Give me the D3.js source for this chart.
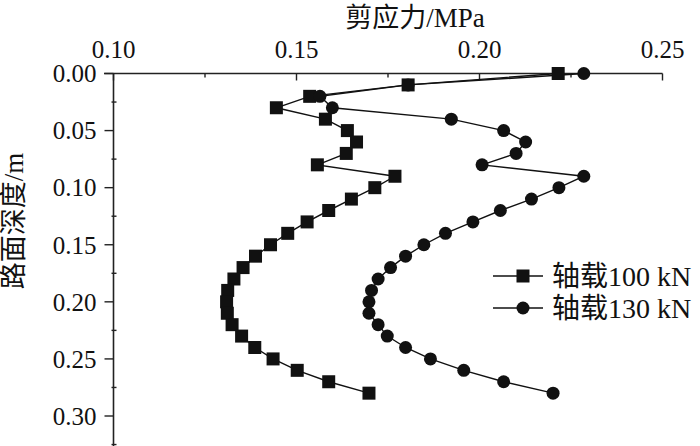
<!DOCTYPE html>
<html><head><meta charset="utf-8">
<script src="https://cdn.jsdelivr.net/npm/d3@7"></script>
<style>
body{margin:0;background:#fff;}
</style></head>
<body><svg id="c" width="700" height="446"></svg>
<script>
const depths = [0.00,0.01,0.02,0.03,0.04,0.05,0.06,0.07,0.08,0.09,0.10,0.11,0.12,0.13,0.14,0.15,0.16,0.17,0.18,0.19,0.20,0.21,0.22,0.23,0.24,0.25,0.26,0.27,0.28];
const load100 = [0.2215,0.1805,0.1536,0.1445,0.1579,0.1639,0.1664,0.1636,0.1557,0.1769,0.1714,0.1650,0.1588,0.1529,0.1476,0.1429,0.1388,0.1354,0.1329,0.1312,0.1309,0.1311,0.1324,0.1350,0.1386,0.1436,0.1502,0.1588,0.1698];
const load130 = [0.2285,0.1805,0.1564,0.1598,0.1923,0.2066,0.2126,0.2100,0.2007,0.2285,0.2217,0.2142,0.2057,0.1982,0.1907,0.1848,0.1798,0.1757,0.1723,0.1705,0.1698,0.1698,0.1723,0.1748,0.1798,0.1866,0.1957,0.2066,0.2201];
const xTicks = [0.10,0.15,0.20,0.25];
const xMinor = [0.125,0.175,0.225];
const yTicks = [0.00,0.05,0.10,0.15,0.20,0.25,0.30];
const yMinor = [0.025,0.075,0.125,0.175,0.225,0.275,0.325];
const seriesNames = ["轴载100 kN","轴载130 kN"];
const xTitle = "剪应力/MPa";
const yTitle = "路面深度/m";

const FONT = "'Liberation Serif', 'Times New Roman', 'DejaVu Serif', 'Noto Sans CJK SC', serif";
const svg = d3.select("#c").style("font-family", FONT);
const x = d3.scaleLinear().domain([0.10,0.25]).range([113.5,662.5]);
const y = d3.scaleLinear().domain([0,0.30]).range([73.5,416]);

// x axis (top)
const gx = svg.append("g").attr("transform",`translate(0,${y(0)})`);
gx.append("line").attr("x1",104).attr("x2",x(0.25)).attr("stroke","#222").attr("stroke-width",1.6);
gx.selectAll(".xt").data(xTicks).join("line").attr("x1",d=>x(d)).attr("x2",d=>x(d)).attr("y1",0).attr("y2",7).attr("stroke","#222").attr("stroke-width",1.4);
gx.selectAll(".xm").data(xMinor).join("line").attr("x1",d=>x(d)).attr("x2",d=>x(d)).attr("y1",0).attr("y2",4).attr("stroke","#222").attr("stroke-width",1.4);
gx.selectAll(".xl").data(xTicks).join("text").attr("x",d=>x(d)).attr("y",-16).attr("text-anchor","middle").attr("font-size",25).attr("font-family",FONT).attr("fill","#111").text(d=>d3.format(".2f")(d));

// y axis
const gy = svg.append("g").attr("transform",`translate(${x(0.10)},0)`);
gy.append("line").attr("y1",y(0)).attr("y2",446).attr("stroke","#222").attr("stroke-width",1.6);
gy.selectAll(".yt").data(yTicks).join("line").attr("y1",d=>y(d)).attr("y2",d=>y(d)).attr("x1",-9).attr("x2",0).attr("stroke","#222").attr("stroke-width",1.4);
gy.selectAll(".ym").data(yMinor).join("line").attr("y1",d=>y(d)).attr("y2",d=>y(d)).attr("x1",-2).attr("x2",3).attr("stroke","#222").attr("stroke-width",1.4);
gy.selectAll(".yl").data(yTicks).join("text").attr("x",-17).attr("y",d=>y(d)).attr("dy","0.35em").attr("text-anchor","end").attr("font-size",25).attr("font-family",FONT).attr("fill","#111").text(d=>d3.format(".2f")(d));

// titles
svg.append("text").attr("x",415).attr("y",27).attr("text-anchor","middle").attr("font-size",27).attr("font-family",FONT).attr("fill","#111").text(xTitle);
svg.append("text").attr("transform","translate(23,221) rotate(-90)").attr("text-anchor","middle").attr("font-size",27).attr("font-family",FONT).attr("fill","#111").text(yTitle);

// series
const line = d3.line().x(d=>x(d[0])).y(d=>y(d[1]));
const s1 = load100.map((v,i)=>[v,depths[i]]);
const s2 = load130.map((v,i)=>[v,depths[i]]);
svg.append("path").attr("d",line(s1)).attr("fill","none").attr("stroke","#111").attr("stroke-width",1.4);
svg.append("path").attr("d",line(s2)).attr("fill","none").attr("stroke","#111").attr("stroke-width",1.4);
const sq = 13, r = 6.5;
svg.selectAll(".p1").data(s1).join("rect").attr("x",d=>x(d[0])-sq/2).attr("y",d=>y(d[1])-sq/2).attr("width",sq).attr("height",sq).attr("fill","#111");
svg.selectAll(".p2").data(s2).join("circle").attr("cx",d=>x(d[0])).attr("cy",d=>y(d[1])).attr("r",r).attr("fill","#111");

// legend
const lg = svg.append("g");
const rows = [276,308];
seriesNames.forEach((n,i)=>{
  lg.append("line").attr("x1",493).attr("x2",543).attr("y1",rows[i]).attr("y2",rows[i]).attr("stroke","#111").attr("stroke-width",1.4);
  if(i===0) lg.append("rect").attr("x",523-sq/2).attr("y",rows[i]-sq/2).attr("width",sq).attr("height",sq).attr("fill","#111");
  else lg.append("circle").attr("cx",523).attr("cy",rows[i]).attr("r",r).attr("fill","#111");
  lg.append("text").attr("x",552).attr("y",rows[i]).attr("dy","0.36em").attr("font-size",28).attr("font-family",FONT).attr("fill","#111").text(n);
});
</script></body></html>
